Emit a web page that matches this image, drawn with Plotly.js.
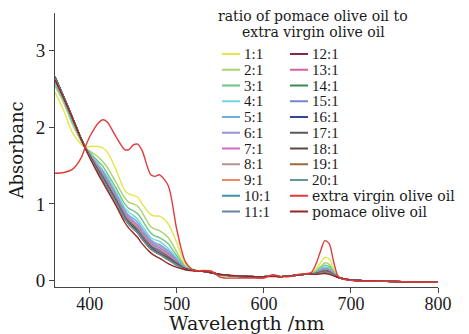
<!DOCTYPE html>
<html><head><meta charset="utf-8">
<script src="https://cdn.plot.ly/plotly-3.0.1.min.js"></script>
<style>html,body{margin:0;padding:0;background:#fff}#chart{width:469px;height:334px}</style>
</head><body><div id="chart"></div>
<script>
// wavelength grid (nm)
const wavelength = [360,370,380,390,395,400,410,415,420,430,440,445,450,455,460,470,475,480,490,500,510,520,530,540,550,570,590,600,610,620,630,640,650,655,660,665,670,675,680,685,690,700,750,800];

const ratio1 = [2.46,2.22,1.93,1.78,1.74,1.75,1.75,1.73,1.68,1.45,1.18,1.13,1.11,1.09,1.00,0.86,0.84,0.84,0.74,0.49,0.21,0.14,0.12,0.11,0.06,0.045,0.04,0.04,0.06,0.05,0.055,0.07,0.085,0.10,0.15,0.23,0.30,0.28,0.15,0.05,0.025,0.005,-0.015,-0.025];
const ratio2 = [2.54,2.32,2.04,1.82,1.73,1.69,1.61,1.55,1.48,1.28,1.08,1.02,1.00,0.97,0.89,0.70,0.67,0.65,0.56,0.37,0.18,0.13,0.12,0.105,0.065,0.05,0.045,0.045,0.06,0.05,0.058,0.07,0.085,0.09,0.13,0.18,0.23,0.21,0.12,0.045,0.025,0.005,-0.015,-0.025];
const ratio3 = [2.57,2.35,2.07,1.83,1.73,1.67,1.55,1.49,1.40,1.21,1.00,0.94,0.91,0.87,0.79,0.62,0.58,0.56,0.48,0.32,0.17,0.13,0.12,0.105,0.07,0.052,0.048,0.048,0.058,0.05,0.059,0.07,0.085,0.09,0.115,0.16,0.20,0.18,0.11,0.045,0.025,0.005,-0.015,-0.025];
const ratio4 = [2.59,2.36,2.09,1.84,1.73,1.66,1.52,1.44,1.36,1.16,0.95,0.89,0.85,0.80,0.72,0.56,0.53,0.51,0.42,0.29,0.16,0.13,0.12,0.10,0.072,0.053,0.05,0.05,0.057,0.05,0.06,0.07,0.085,0.085,0.11,0.145,0.175,0.16,0.10,0.044,0.025,0.005,-0.015,-0.025];
const ratio5 = [2.60,2.37,2.10,1.84,1.73,1.65,1.49,1.42,1.33,1.13,0.92,0.85,0.81,0.76,0.68,0.53,0.49,0.47,0.39,0.27,0.16,0.13,0.12,0.10,0.075,0.055,0.05,0.05,0.056,0.05,0.06,0.07,0.085,0.085,0.105,0.135,0.16,0.145,0.09,0.043,0.025,0.005,-0.015,-0.025];
const ratio6 = [2.61,2.37,2.10,1.84,1.73,1.64,1.48,1.40,1.31,1.11,0.90,0.83,0.78,0.73,0.65,0.51,0.47,0.45,0.37,0.26,0.15,0.13,0.12,0.10,0.075,0.055,0.05,0.05,0.055,0.05,0.06,0.07,0.085,0.084,0.10,0.127,0.15,0.137,0.087,0.043,0.025,0.005,-0.015,-0.025];
const ratio7 = [2.62,2.38,2.11,1.85,1.73,1.64,1.47,1.38,1.29,1.09,0.88,0.81,0.76,0.71,0.63,0.49,0.45,0.43,0.35,0.25,0.15,0.13,0.12,0.10,0.075,0.055,0.05,0.05,0.055,0.05,0.06,0.07,0.085,0.084,0.098,0.122,0.144,0.13,0.084,0.043,0.025,0.005,-0.015,-0.025];
const ratio8 = [2.63,2.38,2.11,1.85,1.73,1.63,1.46,1.37,1.28,1.08,0.87,0.79,0.75,0.70,0.62,0.47,0.44,0.41,0.33,0.24,0.15,0.13,0.12,0.10,0.075,0.055,0.05,0.05,0.055,0.05,0.06,0.07,0.085,0.083,0.096,0.118,0.138,0.124,0.081,0.042,0.025,0.005,-0.015,-0.025];
const ratio9 = [2.63,2.39,2.11,1.85,1.73,1.63,1.45,1.36,1.27,1.07,0.86,0.78,0.74,0.68,0.60,0.46,0.42,0.40,0.32,0.23,0.15,0.13,0.12,0.10,0.075,0.055,0.05,0.05,0.055,0.05,0.06,0.07,0.085,0.083,0.094,0.115,0.133,0.12,0.079,0.042,0.025,0.005,-0.015,-0.025];
const ratio10 = [2.64,2.39,2.12,1.85,1.73,1.63,1.44,1.36,1.26,1.06,0.85,0.77,0.72,0.67,0.59,0.45,0.42,0.39,0.31,0.23,0.15,0.13,0.12,0.10,0.075,0.055,0.05,0.05,0.055,0.05,0.06,0.07,0.085,0.083,0.093,0.112,0.129,0.116,0.077,0.042,0.025,0.005,-0.015,-0.025];
const ratio11 = [2.64,2.39,2.12,1.85,1.73,1.62,1.44,1.35,1.25,1.06,0.84,0.77,0.72,0.66,0.58,0.45,0.41,0.38,0.31,0.22,0.15,0.13,0.12,0.10,0.075,0.055,0.05,0.05,0.055,0.05,0.06,0.07,0.085,0.082,0.092,0.11,0.126,0.113,0.076,0.042,0.025,0.005,-0.015,-0.025];
const ratio12 = [2.65,2.40,2.12,1.85,1.73,1.62,1.43,1.34,1.25,1.05,0.83,0.76,0.71,0.65,0.57,0.44,0.40,0.37,0.30,0.22,0.15,0.13,0.12,0.10,0.075,0.055,0.05,0.05,0.055,0.05,0.06,0.07,0.085,0.082,0.091,0.108,0.123,0.111,0.075,0.042,0.025,0.005,-0.015,-0.025];
const ratio13 = [2.65,2.40,2.12,1.85,1.73,1.62,1.43,1.34,1.24,1.04,0.83,0.75,0.70,0.65,0.57,0.43,0.39,0.37,0.29,0.21,0.15,0.13,0.12,0.10,0.075,0.055,0.05,0.05,0.055,0.05,0.06,0.07,0.085,0.082,0.09,0.106,0.121,0.108,0.073,0.041,0.025,0.005,-0.015,-0.025];
const ratio14 = [2.66,2.40,2.13,1.85,1.73,1.62,1.43,1.34,1.24,1.04,0.82,0.75,0.70,0.64,0.56,0.43,0.39,0.36,0.29,0.21,0.15,0.13,0.12,0.10,0.075,0.055,0.05,0.05,0.055,0.05,0.06,0.07,0.085,0.082,0.089,0.105,0.119,0.107,0.073,0.041,0.025,0.005,-0.015,-0.025];
const ratio15 = [2.66,2.40,2.13,1.85,1.73,1.62,1.42,1.33,1.24,1.04,0.82,0.74,0.69,0.64,0.56,0.42,0.39,0.36,0.28,0.21,0.15,0.13,0.12,0.10,0.075,0.055,0.05,0.05,0.055,0.05,0.06,0.07,0.085,0.082,0.089,0.103,0.117,0.105,0.072,0.041,0.025,0.005,-0.015,-0.025];
const ratio16 = [2.66,2.40,2.13,1.85,1.73,1.62,1.42,1.33,1.23,1.03,0.82,0.74,0.69,0.63,0.55,0.42,0.38,0.35,0.28,0.21,0.15,0.13,0.12,0.10,0.075,0.055,0.05,0.05,0.055,0.05,0.06,0.07,0.085,0.082,0.088,0.102,0.115,0.104,0.071,0.041,0.025,0.005,-0.015,-0.025];
const ratio17 = [2.65,2.40,2.13,1.85,1.73,1.62,1.42,1.33,1.23,1.03,0.81,0.74,0.68,0.63,0.55,0.42,0.38,0.35,0.28,0.20,0.15,0.13,0.12,0.10,0.075,0.055,0.05,0.05,0.055,0.05,0.06,0.07,0.085,0.082,0.088,0.102,0.114,0.102,0.071,0.041,0.025,0.005,-0.015,-0.025];
const ratio18 = [2.65,2.39,2.13,1.85,1.73,1.62,1.42,1.32,1.23,1.03,0.81,0.73,0.68,0.62,0.55,0.41,0.38,0.35,0.27,0.20,0.15,0.13,0.12,0.10,0.075,0.055,0.05,0.05,0.055,0.05,0.06,0.07,0.085,0.082,0.087,0.101,0.113,0.101,0.07,0.041,0.025,0.005,-0.015,-0.025];
const ratio19 = [2.64,2.39,2.12,1.85,1.73,1.61,1.41,1.32,1.22,1.02,0.81,0.73,0.68,0.62,0.54,0.41,0.37,0.34,0.27,0.20,0.14,0.13,0.12,0.10,0.075,0.055,0.05,0.05,0.055,0.05,0.06,0.07,0.085,0.082,0.087,0.10,0.112,0.10,0.07,0.041,0.025,0.005,-0.015,-0.025];
const ratio20 = [2.64,2.39,2.12,1.85,1.73,1.61,1.41,1.32,1.22,1.02,0.81,0.73,0.67,0.62,0.54,0.41,0.37,0.34,0.27,0.20,0.14,0.13,0.12,0.10,0.075,0.055,0.05,0.05,0.055,0.05,0.06,0.07,0.085,0.081,0.087,0.099,0.111,0.099,0.069,0.041,0.025,0.005,-0.015,-0.025];
const extraVirgin = [1.40,1.41,1.45,1.60,1.75,1.88,2.06,2.10,2.07,1.88,1.71,1.71,1.77,1.78,1.70,1.38,1.36,1.38,1.24,0.66,0.24,0.13,0.13,0.12,0.04,0.03,0.03,0.03,0.075,0.05,0.05,0.08,0.09,0.11,0.22,0.38,0.52,0.48,0.25,0.06,0.02,0.0,-0.015,-0.025];
const pomace = [2.62,2.38,2.12,1.85,1.72,1.60,1.38,1.28,1.18,0.98,0.76,0.68,0.62,0.56,0.48,0.36,0.32,0.29,0.22,0.17,0.14,0.125,0.12,0.10,0.08,0.06,0.05,0.05,0.05,0.05,0.06,0.07,0.085,0.08,0.08,0.085,0.09,0.08,0.06,0.04,0.025,0.005,-0.015,-0.025];

const seriesNames = ['1:1','2:1','3:1','4:1','5:1','6:1','7:1','8:1','9:1','10:1','11:1','12:1','13:1','14:1','15:1','16:1','17:1','18:1','19:1','20:1','extra virgin olive oil','pomace olive oil'];
const seriesValues = [ratio1,ratio2,ratio3,ratio4,ratio5,ratio6,ratio7,ratio8,ratio9,ratio10,ratio11,ratio12,ratio13,ratio14,ratio15,ratio16,ratio17,ratio18,ratio19,ratio20,extraVirgin,pomace];
const xTickVals = [400,500,600,700,800];
const yTickVals = [0,1,2,3];
const xTitle = 'Wavelength /nm';
const yTitle = 'Absorbanc';

// styles
const colors = ['#e4e44c','#a6d46c','#6cc486','#72d6de','#6aaedc','#9494d6','#cc6ccc','#b49494','#ee8a66','#3a96a6','#64849e','#86284e','#de5ea6','#3a8a52','#7686ce','#34449e','#5a5a5a','#5e4646','#9a6a3a','#669696','#e23a3a','#962626'];

const W = 469, H = 334, ML = 55, MR = 31, MT = 13, MB = 47;
const PW = W - ML - MR, PH = H - MT - MB;
const px = v => (v - ML) / PW;
const py = v => (H - MB - v) / PH;

const order = [];
for (let i = 0; i < 20; i++) order.push(i);
order.push(21, 20);
const traces = order.map(i => ({
  type: 'scatter', mode: 'lines', name: seriesNames[i],
  x: wavelength, y: seriesValues[i],
  line: {color: colors[i], width: 1.4, shape: 'spline', smoothing: 0.8},
  showlegend: false, hoverinfo: 'skip'
}));

const shapes = [], annotations = [];
seriesNames.forEach((n, i) => {
  const col = i < 11 ? 0 : 1, row = i % 11;
  const yc = 54 + row * 15.75;
  const lx0 = col === 0 ? 222 : 290, lx1 = col === 0 ? 240 : 308, tx = col === 0 ? 241.5 : 309.5;
  shapes.push({type: 'line', xref: 'paper', yref: 'paper', x0: px(lx0), x1: px(lx1), y0: py(yc), y1: py(yc), line: {color: colors[i], width: 2}});
  const isRatio = i < 20;
  annotations.push({xref: 'paper', yref: 'paper', x: px(tx), y: py(yc), xanchor: 'left', yanchor: 'middle', showarrow: false, text: n,
    font: {family: isRatio ? 'Liberation Serif' : 'DejaVu Serif', size: isRatio ? 15 : 14, color: '#1a1a1a'}});
});
annotations.push({xref: 'paper', yref: 'paper', x: px(313), y: py(16), xanchor: 'center', yanchor: 'middle', showarrow: false, text: 'ratio of pomace olive oil to', font: {family: 'DejaVu Serif', size: 14, color: '#1a1a1a'}});
annotations.push({xref: 'paper', yref: 'paper', x: px(313), y: py(32), xanchor: 'center', yanchor: 'middle', showarrow: false, text: 'extra virgin olive oil', font: {family: 'DejaVu Serif', size: 14, color: '#1a1a1a'}});
// x-axis title, placed under the tick labels
annotations.push({xref: 'paper', yref: 'paper', x: 0.5, y: py(311), xanchor: 'center', yanchor: 'top', borderpad: 0, showarrow: false, text: xTitle, font: {family: 'DejaVu Serif', size: 19, color: '#1a1a1a'}});

const axisCommon = {showline: true, linecolor: '#444', linewidth: 1, ticks: 'outside', ticklen: 5, tickwidth: 1, tickcolor: '#444', showgrid: false, zeroline: false, mirror: false,
  tickfont: {family: 'Liberation Serif', size: 19, color: '#1a1a1a'}};

const layout = {
  width: W, height: H, margin: {l: ML, r: MR, t: MT, b: MB, pad: 0},
  paper_bgcolor: '#fff', plot_bgcolor: '#fff', showlegend: false,
  xaxis: Object.assign({}, axisCommon, {range: [360, 800], tickvals: xTickVals, ticktext: xTickVals.map(String), ticklabelstandoff: -5,
    tickfont: {family: 'Liberation Serif', size: 18, color: '#1a1a1a'}}),
  yaxis: Object.assign({}, axisCommon, {range: [-0.086, 3.494], tickvals: yTickVals, ticktext: yTickVals.map(String),
    title: {text: yTitle, font: {family: 'DejaVu Serif', size: 18, color: '#1a1a1a'}, standoff: 7}}),
  shapes: shapes, annotations: annotations
};
Plotly.newPlot('chart', traces, layout, {displayModeBar: false, staticPlot: true});
</script></body></html>
